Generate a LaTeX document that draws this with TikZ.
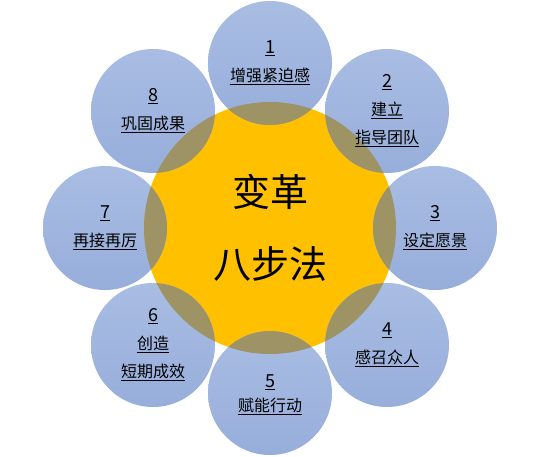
\documentclass[tikz,border=0pt]{standalone}
\usepackage{fontspec}
\setmainfont{Carlito}
\newfontfamily\cjk{Noto Sans CJK SC}
\usetikzlibrary{positioning,shapes}
\usepackage{xcolor}
\definecolor{coreorange}{HTML}{FFC000}
\definecolor{steptop}{HTML}{A9BDE3}
\definecolor{stepbot}{HTML}{97AEDB}
\definecolor{stepmix}{HTML}{9E9364}
\newcommand{\ul}[1]{\underline{#1}}
\newcommand{\num}[1]{{\fontsize{18}{28}\selectfont\underline{#1}}}

\begin{document}
\begin{tikzpicture}[x=1pt, y=-1pt]
		\useasboundingbox (0,0) rectangle (541,456);
		\node[circle, fill=coreorange, minimum size=252pt, inner sep=0pt] (c) at (270,228) {};
		\begin{scope}[every node/.style={circle, minimum size=124pt, inner sep=0pt,
				top color=steptop, bottom color=stepbot}]
			\node (s1) at (270,63) {};
			\node (s2) at (387,111) {};
			\node (s3) at (435,228) {};
			\node (s4) at (387,345) {};
			\node (s5) at (270,393) {};
			\node (s6) at (153,345) {};
			\node (s7) at (105,228) {};
			\node (s8) at (153,111) {};
		\end{scope}
		% overlap of the steps with the core
		\begin{scope}
			\clip (c.center) circle (126);
			\foreach \s in {s1,s2,s3,s4,s5,s6,s7,s8}
				\fill[stepmix] (\s.center) circle (62);
		\end{scope}
		\begin{scope}[every node/.style={align=center, font=\cjk\fontsize{16}{28}\selectfont}]
			\node (t1) at (s1) {\num{1}\\\ul{增强紧迫感}};
			\node (t2) at (s2) {\num{2}\\\ul{建立}\\\ul{指导团队}};
			\node (t3) at (s3) {\num{3}\\\ul{设定愿景}};
			\node (t4) at (s4) {\num{4}\\\ul{感召众人}};
			\node (t5) at ([yshift=-2pt]s5) {\num{5}\\[-4pt]\ul{赋能行动}};
			\node (t6) at (s6) {\num{6}\\\ul{创造}\\\ul{短期成效}};
			\node (t7) at (s7) {\num{7}\\\ul{再接再厉}};
			\node (t8) at (s8) {\num{8}\\\ul{巩固成果}};
		\end{scope}
		\node[align=center, font=\cjk\fontsize{38}{72}\selectfont] (title) at (c) {变革\\八步法};
	\end{tikzpicture}
\end{document}
